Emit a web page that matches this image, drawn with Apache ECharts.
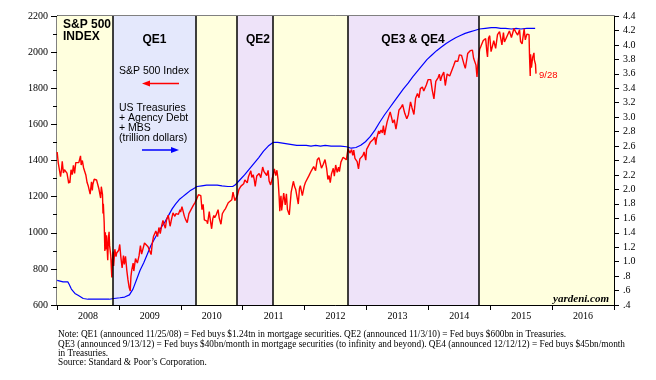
<!DOCTYPE html>
<html><head><meta charset="utf-8">
<script src="https://cdn.jsdelivr.net/npm/echarts@6/dist/echarts.min.js"></script>
<style>html,body{margin:0;padding:0;background:#fff}#c{width:656px;height:380px}</style>
</head><body><div id="c"></div>
<script>
// ---- data ----
var yearLabels = ['2008','2009','2010','2011','2012','2013','2014','2015','2016'];
var leftTicks = [600,800,1000,1200,1400,1600,1800,2000,2200];
var rightTicks = ['.4','.6','.8','1.0','1.2','1.4','1.6','1.8','2.0','2.2','2.4','2.6','2.8','3.0','3.2','3.4','3.6','3.8','4.0','4.2','4.4'];

var spDates = [
'2008-01-02','2008-01-08','2008-01-15','2008-01-22','2008-01-28','2008-02-01','2008-02-08','2008-02-14','2008-02-22','2008-02-29','2008-03-07','2008-03-10','2008-03-14','2008-03-17','2008-03-24','2008-03-31','2008-04-07','2008-04-14','2008-04-21','2008-04-30','2008-05-09','2008-05-19','2008-05-23','2008-05-30','2008-06-06','2008-06-13','2008-06-20','2008-06-27','2008-07-03','2008-07-15','2008-07-23','2008-07-28','2008-07-31','2008-08-08','2008-08-15','2008-08-22','2008-08-29','2008-09-05','2008-09-12','2008-09-15','2008-09-19','2008-09-26','2008-09-29','2008-10-01','2008-10-06','2008-10-10','2008-10-13','2008-10-15','2008-10-20','2008-10-27','2008-10-31','2008-11-04','2008-11-07','2008-11-14','2008-11-20','2008-11-24','2008-11-28','2008-12-01','2008-12-08','2008-12-15','2008-12-19','2008-12-31',
'2009-01-06','2009-01-12','2009-01-20','2009-01-28','2009-02-02','2009-02-09','2009-02-17','2009-02-23','2009-03-02','2009-03-09','2009-03-13','2009-03-18','2009-03-26','2009-03-30','2009-04-09','2009-04-15','2009-04-20','2009-04-30','2009-05-08','2009-05-15','2009-05-22','2009-06-01','2009-06-12','2009-06-22','2009-06-30','2009-07-10','2009-07-17','2009-07-24','2009-07-31','2009-08-07','2009-08-17','2009-08-25','2009-08-31','2009-09-02','2009-09-11','2009-09-18','2009-09-25','2009-10-02','2009-10-09','2009-10-19','2009-10-30','2009-11-06','2009-11-16','2009-11-27','2009-12-04','2009-12-14','2009-12-18','2009-12-28','2009-12-31',
'2010-01-08','2010-01-19','2010-01-22','2010-01-29','2010-02-05','2010-02-08','2010-02-18','2010-02-26','2010-03-08','2010-03-15','2010-03-26','2010-04-06','2010-04-15','2010-04-23','2010-04-29','2010-05-06','2010-05-13','2010-05-20','2010-05-25','2010-06-04','2010-06-08','2010-06-18','2010-06-24','2010-07-02','2010-07-09','2010-07-15','2010-07-20','2010-07-30','2010-08-09','2010-08-16','2010-08-26','2010-09-03','2010-09-13','2010-09-22','2010-09-30','2010-10-08','2010-10-19','2010-10-29','2010-11-05','2010-11-16','2010-11-23','2010-12-01','2010-12-10','2010-12-22','2010-12-31',
'2011-01-07','2011-01-14','2011-01-28','2011-02-04','2011-02-18','2011-02-24','2011-03-04','2011-03-10','2011-03-16','2011-03-25','2011-04-08','2011-04-18','2011-04-29','2011-05-06','2011-05-16','2011-05-23','2011-05-31','2011-06-06','2011-06-15','2011-06-24','2011-06-30','2011-07-07','2011-07-15','2011-07-22','2011-07-29','2011-08-04','2011-08-08','2011-08-11','2011-08-15','2011-08-19','2011-08-31','2011-09-09','2011-09-16','2011-09-22','2011-09-30','2011-10-03','2011-10-14','2011-10-20','2011-10-27','2011-11-04','2011-11-10','2011-11-16','2011-11-25','2011-12-02','2011-12-07','2011-12-19','2011-12-30',
'2012-01-06','2012-01-13','2012-01-27','2012-02-10','2012-02-24','2012-03-06','2012-03-16','2012-03-26','2012-04-02','2012-04-10','2012-04-20','2012-05-01','2012-05-11','2012-05-18','2012-05-25','2012-06-01','2012-06-08','2012-06-19','2012-06-25','2012-07-03','2012-07-12','2012-07-20','2012-07-25','2012-08-03','2012-08-16','2012-08-24','2012-09-04','2012-09-14','2012-09-25','2012-10-05','2012-10-12','2012-10-18','2012-10-25','2012-11-07','2012-11-15','2012-11-23','2012-12-03','2012-12-11','2012-12-18','2012-12-28',
'2013-01-02','2013-01-11','2013-01-25','2013-02-01','2013-02-11','2013-02-19','2013-02-25','2013-03-01','2013-03-14','2013-03-19','2013-03-28','2013-04-05','2013-04-11','2013-04-18','2013-04-26','2013-05-03','2013-05-21','2013-05-31','2013-06-05','2013-06-14','2013-06-24','2013-07-01','2013-07-12','2013-07-23','2013-08-02','2013-08-15','2013-08-27','2013-09-06','2013-09-18','2013-09-27','2013-10-08','2013-10-18','2013-10-29','2013-11-07','2013-11-15','2013-11-27','2013-12-05','2013-12-13','2013-12-20','2013-12-31',
'2014-01-10','2014-01-15','2014-01-24','2014-02-03','2014-02-14','2014-02-28','2014-03-07','2014-03-14','2014-03-21','2014-04-02','2014-04-11','2014-04-22','2014-05-07','2014-05-16','2014-05-30','2014-06-09','2014-06-24','2014-07-03','2014-07-16','2014-07-24','2014-07-31','2014-08-07','2014-08-15','2014-08-21','2014-08-29','2014-09-05','2014-09-18','2014-09-25','2014-10-03','2014-10-09','2014-10-15','2014-10-21','2014-10-31','2014-11-07','2014-11-21','2014-11-28','2014-12-05','2014-12-12','2014-12-16','2014-12-22','2014-12-29',
'2015-01-06','2015-01-15','2015-01-22','2015-02-02','2015-02-13','2015-02-25','2015-03-02','2015-03-11','2015-03-20','2015-03-26','2015-04-03','2015-04-14','2015-04-24','2015-05-06','2015-05-21','2015-06-01','2015-06-12','2015-06-23','2015-06-29','2015-07-08','2015-07-20','2015-07-27','2015-08-05','2015-08-18','2015-08-21','2015-08-24','2015-08-25','2015-08-27','2015-09-01','2015-09-08','2015-09-16','2015-09-18','2015-09-25','2015-09-28'];
var spValues = [
1447,1390,1380,1310,1353,1395,1331,1349,1353,1330,1293,1273,1288,1276,1349,1322,1373,1329,1388,1385,1388,1426,1375,1400,1360,1360,1318,1278,1262,1214,1282,1234,1267,1296,1298,1292,1283,1242,1252,1192,1255,1213,1106,1161,1056,899,1003,908,986,848,969,1005,930,873,752,852,896,816,909,868,888,903,
935,871,805,874,825,870,789,743,700,677,757,794,832,788,857,852,832,873,929,882,887,943,946,922,919,879,941,979,987,1010,979,1029,1021,995,1042,1068,1044,1025,1071,1097,1036,1069,1110,1091,1106,1114,1102,1128,1115,
1145,1150,1092,1074,1066,1056,1106,1104,1138,1150,1167,1189,1211,1217,1206,1128,1157,1071,1074,1064,1050,1117,1073,1022,1078,1096,1083,1102,1128,1080,1047,1105,1122,1134,1141,1166,1166,1183,1225,1178,1181,1206,1240,1258,1258,
1271,1293,1276,1310,1343,1306,1321,1295,1257,1314,1328,1305,1364,1340,1329,1317,1345,1286,1265,1268,1321,1353,1316,1346,1292,1200,1119,1172,1204,1124,1219,1154,1216,1129,1131,1099,1225,1215,1285,1253,1239,1237,1159,1245,1261,1206,1258,
1278,1289,1316,1343,1366,1344,1404,1416,1419,1358,1378,1405,1353,1295,1317,1278,1325,1357,1313,1375,1334,1363,1338,1391,1418,1411,1404,1465,1441,1460,1428,1457,1412,1394,1353,1409,1410,1428,1447,1402,
1462,1472,1503,1513,1518,1530,1488,1518,1563,1548,1569,1553,1593,1541,1582,1614,1669,1631,1608,1626,1573,1614,1680,1692,1710,1661,1631,1655,1725,1691,1655,1745,1771,1748,1798,1807,1785,1775,1818,1848,
1842,1848,1790,1741,1838,1859,1878,1841,1866,1890,1815,1879,1868,1878,1924,1951,1949,1985,1982,1988,1931,1910,1955,1992,2003,2008,2011,1966,1967,1928,1862,1941,2018,2032,2064,2068,2075,2002,1973,2078,2091,
2003,1993,2063,2021,2097,2114,2117,2040,2108,2056,2067,2096,2117,2081,2131,2111,2094,2124,2058,2046,2129,2068,2100,2096,1971,1893,1868,1988,1914,1970,1996,1958,1932,1881];

var fedDates = [
'2008-01-02','2008-02-06','2008-03-05','2008-03-12','2008-03-26','2008-04-16','2008-05-07','2008-06-04','2008-07-02','2008-09-03','2008-11-05','2008-12-03',
'2009-01-07','2009-02-04','2009-03-04','2009-03-25','2009-04-15','2009-05-06','2009-05-27','2009-06-17','2009-07-08','2009-07-29','2009-08-19','2009-09-09','2009-09-30','2009-10-21','2009-11-11','2009-12-02','2009-12-23',
'2010-01-13','2010-02-03','2010-02-24','2010-03-17','2010-04-07','2010-05-05','2010-06-02','2010-07-07','2010-08-04','2010-09-01','2010-10-06','2010-11-03','2010-11-17','2010-12-15',
'2011-01-12','2011-02-09','2011-03-09','2011-04-06','2011-05-04','2011-06-01','2011-06-29','2011-07-27','2011-08-24','2011-09-21','2011-10-19','2011-11-16','2011-12-14',
'2012-01-11','2012-02-08','2012-03-07','2012-04-04','2012-05-02','2012-06-06','2012-07-04','2012-08-01','2012-09-05','2012-10-03','2012-10-31','2012-11-28','2012-12-26',
'2013-01-23','2013-02-20','2013-03-20','2013-04-17','2013-05-15','2013-06-12','2013-07-10','2013-08-07','2013-09-04','2013-10-02','2013-10-30','2013-11-27','2013-12-25',
'2014-01-22','2014-02-19','2014-03-19','2014-04-16','2014-05-14','2014-06-11','2014-07-09','2014-08-06','2014-09-03','2014-10-01','2014-10-29','2014-12-03',
'2015-01-07','2015-02-04','2015-03-04','2015-04-01','2015-05-06','2015-06-03','2015-07-01','2015-08-05','2015-09-02','2015-09-23'];
var fedValues = [
0.74,0.72,0.72,0.69,0.62,0.56,0.53,0.49,0.48,0.48,0.48,0.49,
0.50,0.51,0.54,0.62,0.75,0.88,0.98,1.10,1.22,1.31,1.40,1.48,1.55,1.64,1.73,1.80,1.86,
1.90,1.94,1.98,2.01,2.04,2.05,2.06,2.06,2.06,2.05,2.04,2.04,2.06,2.13,
2.20,2.28,2.36,2.44,2.53,2.60,2.65,2.65,2.64,2.63,2.62,2.61,2.61,
2.61,2.60,2.61,2.60,2.61,2.60,2.60,2.60,2.59,2.57,2.58,2.61,2.66,
2.73,2.82,2.93,3.03,3.12,3.21,3.30,3.39,3.47,3.56,3.64,3.72,3.80,
3.86,3.92,3.97,4.02,4.06,4.10,4.13,4.16,4.18,4.20,4.22,4.23,
4.24,4.24,4.23,4.23,4.22,4.23,4.22,4.23,4.23,4.23];

// QE program boundaries
var periodStarts = ['2008-01-01','2008-11-26','2010-03-31','2010-11-29','2011-06-30','2012-09-15','2014-10-27'];
var periodEnds   = ['2008-11-26','2010-03-31','2010-11-29','2011-06-30','2012-09-15','2014-10-27','2017-01-01'];
var periodKinds  = ['none','qe1','none','qe','none','qe','none'];
var boundaryDates = ['2008-11-26','2010-03-31','2010-11-29','2011-06-30','2012-09-15','2014-10-27'];

var noteLines = [
'Note: QE1 (announced 11/25/08) = Fed buys $1.24tn in mortgage securities. QE2 (announced 11/3/10) = Fed buys $600bn in Treasuries.',
'QE3 (announced 9/13/12) = Fed buys $40bn/month in mortgage securities (to infinity and beyond). QE4 (announced 12/12/12) = Fed buys $45bn/month',
'in Treasuries.',
'Source: Standard & Poor\u2019s Corporation.'];

// ---- helpers ----
function toYear(s){
  var p = s.split('-'); var y = +p[0];
  var t = Date.UTC(y, +p[1]-1, +p[2]);
  var a = Date.UTC(y,0,1), b = Date.UTC(y+1,0,1);
  return y + (t-a)/(b-a);
}
function zip(d,v){ return d.map(function(s,i){ return [toYear(s), v[i]]; }); }

var colors = {none:'#FFFFDE', qe1:'#E4E8FC', qe:'#EEE3F9'};
var areas = periodStarts.map(function(s,i){
  return [{xAxis: toYear(s), itemStyle:{color: colors[periodKinds[i]]}}, {xAxis: toYear(periodEnds[i])}];
});
var vlines = boundaryDates.map(function(s){ return {xAxis: toYear(s)}; });

var serif = '"Liberation Serif","Times New Roman",serif';
var sans = '"Liberation Sans",Arial,sans-serif';

// measure footnote to fit the reference width
var cv = document.createElement('canvas').getContext('2d');
cv.font = '10px ' + serif;
var noteScale = 567 / cv.measureText(noteLines[1]).width;

var chart = echarts.init(document.getElementById('c'), null, {renderer:'canvas'});
var graphics = [
  {type:'text', x:63, y:25, style:{text:'S&P 500', font:'bold 12px '+sans, fill:'#000', verticalAlign:'middle'}},
  {type:'text', x:63, y:37, style:{text:'INDEX', font:'bold 12px '+sans, fill:'#000', verticalAlign:'middle'}},
  {type:'text', x:154.5, y:40, style:{text:'QE1', font:'bold 12px '+sans, fill:'#000', align:'center', verticalAlign:'middle'}},
  {type:'text', x:258, y:40, style:{text:'QE2', font:'bold 12px '+sans, fill:'#000', align:'center', verticalAlign:'middle'}},
  {type:'text', x:413, y:40, style:{text:'QE3 & QE4', font:'bold 12px '+sans, fill:'#000', align:'center', verticalAlign:'middle'}},
  {type:'text', x:119, y:71, style:{text:'S&P 500 Index', font:'10.5px '+sans, fill:'#000', verticalAlign:'middle'}},
  {type:'text', x:119, y:108, style:{text:'US Treasuries', font:'10.5px '+sans, fill:'#000', verticalAlign:'middle'}},
  {type:'text', x:119, y:118.5, style:{text:'+ Agency Debt', font:'10.5px '+sans, fill:'#000', verticalAlign:'middle'}},
  {type:'text', x:119, y:128.5, style:{text:'+ MBS', font:'10.5px '+sans, fill:'#000', verticalAlign:'middle'}},
  {type:'text', x:119, y:138.5, style:{text:'(trillion dollars)', font:'10.5px '+sans, fill:'#000', verticalAlign:'middle'}},
  {type:'line', shape:{x1:148, y1:83.5, x2:179, y2:83.5}, style:{stroke:'#FF0000', lineWidth:1.5}},
  {type:'polygon', shape:{points:[[142,83.5],[150,80.5],[150,86.5]]}, style:{fill:'#FF0000'}},
  {type:'line', shape:{x1:142, y1:150, x2:173, y2:150}, style:{stroke:'#0000FF', lineWidth:1.5}},
  {type:'polygon', shape:{points:[[179,150],[171,147],[171,153]]}, style:{fill:'#0000FF'}},
  {type:'text', x:539, y:75, style:{text:'9/28', font:'9.5px '+sans, fill:'#FF0000', verticalAlign:'middle'}},
  {type:'text', x:609, y:299, style:{text:'yardeni.com', font:'italic bold 11px '+serif, fill:'#000', align:'right', verticalAlign:'middle'}}
];
var noteY = [334, 344, 353, 362];
noteLines.forEach(function(t,i){
  graphics.push({type:'text', x:58, y:noteY[i], scaleX:noteScale, originX:0, style:{text:t, font:'10px '+serif, fill:'#000', verticalAlign:'middle'}});
});
graphics.forEach(function(g){ g.z = 100; });

chart.setOption({
  animation:false,
  backgroundColor:'#fff',
  grid:{left:57, right:42, top:16, bottom:75, show:true, borderColor:'#000', borderWidth:1, backgroundColor:'transparent'},
  xAxis:[
    {type:'value', min:2008, max:2017, interval:1, position:'bottom',
     axisLine:{show:true, lineStyle:{color:'#000', width:1}},
     axisTick:{show:true, length:5, lineStyle:{color:'#000'}},
     axisLabel:{show:false}, splitLine:{show:false}},
    {type:'category', data:yearLabels, boundaryGap:true, position:'bottom',
     axisLine:{show:false}, axisTick:{show:false}, splitLine:{show:false},
     axisLabel:{show:true, margin:6, color:'#000', fontFamily:serif, fontSize:10}}
  ],
  yAxis:[
    {type:'value', min:600, max:2200, interval:200, position:'left',
     axisLine:{show:true, lineStyle:{color:'#000'}},
     axisTick:{show:true, length:6, lineStyle:{color:'#000'}},
     minorTick:{show:true, splitNumber:2, length:4, lineStyle:{color:'#000'}},
     axisLabel:{margin:9, color:'#000', fontFamily:serif, fontSize:10,
       formatter:function(v){ var i = leftTicks.indexOf(Math.round(v)); return i>=0 ? String(leftTicks[i]) : ''; }},
     splitLine:{show:false}},
    {type:'value', min:0.4, max:4.4, interval:0.2, position:'right',
     axisLine:{show:true, lineStyle:{color:'#000'}},
     axisTick:{show:true, length:5, lineStyle:{color:'#000'}},
     axisLabel:{margin:9, color:'#000', fontFamily:serif, fontSize:10,
       formatter:function(v){ var i = Math.round((v-0.4)/0.2); return rightTicks[i] || ''; }},
     splitLine:{show:false}}
  ],
  series:[
    {type:'line', name:'bg', xAxisIndex:0, yAxisIndex:0, data:[], z:1, silent:true,
     markArea:{silent:true, data:areas},
     markLine:{silent:true, symbol:['none','none'], label:{show:false},
       lineStyle:{color:'#000', type:'solid', width:1.5}, data:vlines}},
    {type:'line', name:'Fed', xAxisIndex:0, yAxisIndex:1, data:zip(fedDates, fedValues), z:3,
     showSymbol:false, lineStyle:{color:'#0000FF', width:1.2}, itemStyle:{color:'#0000FF'}},
    {type:'line', name:'S&P 500', xAxisIndex:0, yAxisIndex:0, data:zip(spDates, spValues), z:4,
     showSymbol:false, lineStyle:{color:'#FF0000', width:1.4}, itemStyle:{color:'#FF0000'}}
  ],
  graphic:graphics
});
</script>
</body></html>
